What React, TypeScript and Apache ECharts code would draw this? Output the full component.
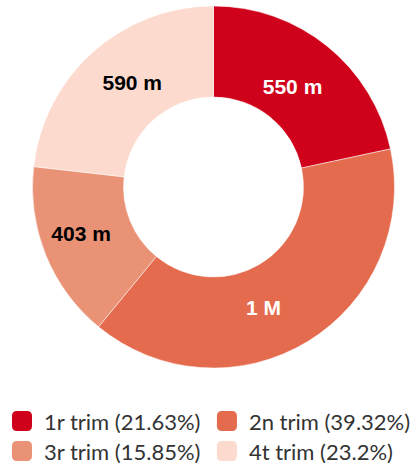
import React, { useEffect, useRef } from "react";
import * as echarts from "echarts";

const categories = ["1r trim", "2n trim", "3r trim", "4t trim"];
const values = [550, 1000, 403, 590];
const sliceColors = ["#D0021B", "#E56B4E", "#EA9275", "#FDDACE"];
const labelColors = ["#ffffff", "#ffffff", "#000000", "#000000"];
// small label nudges (layout only), per slice index
const labelNudges: [number, number][] = [
  [-8, 7],
  [-22, 2],
  [-4, -5],
  [11, -1],
];

const total = values.reduce((a, b) => a + b, 0);
const pct = (v: number) => Number(((v / total) * 100).toFixed(2));
const fmtValue = (v: number) => (v >= 1000 ? `${Number((v / 1000).toFixed(1))} M` : `${v} m`);

export default function App() {
  const ref = useRef<HTMLDivElement>(null);
  useEffect(() => {
    if (!ref.current) return;
    const chart = echarts.init(ref.current, undefined, { renderer: "svg" });
    const legendBase = {
      left: 10,
      padding: 0,
      orient: "horizontal" as const,
      itemWidth: 22,
      itemHeight: 22,
      itemGap: 14,
      icon: "roundRect",
      selectedMode: false,
      formatter: (name: string) => {
        const i = categories.indexOf(name);
        return `${name} (${pct(values[i])}%)`;
      },
      textStyle: {
        fontFamily: "Lato",
        fontSize: 22,
        color: "#333333",
        width: 170,
        padding: [0, 0, 0, 6],
      },
    };
    chart.setOption({
      animation: false,
      color: sliceColors,
      legend: [
        { ...legendBase, top: 409, data: [categories[0], categories[1]] },
        { ...legendBase, top: 439, data: [categories[2], categories[3]] },
      ],
      series: [
        {
          type: "pie",
          center: [213.5, 187],
          radius: [90, 181],
          startAngle: 90,
          clockwise: true,
          avoidLabelOverlap: false,
          itemStyle: { borderColor: "#ffffff", borderWidth: 0.5 },
          label: {
            show: true,
            position: "inside",
            fontFamily: "Liberation Sans, Arial, sans-serif",
            fontWeight: "bold",
            fontSize: 21,
            formatter: (p: any) => fmtValue(p.value),
          },
          labelLayout: (p: any) => ({
            dx: labelNudges[p.dataIndex][0],
            dy: labelNudges[p.dataIndex][1],
          }),
          labelLine: { show: false },
          emphasis: { disabled: true },
          data: categories.map((name, i) => ({
            name,
            value: values[i],
            label: { color: labelColors[i] },
          })),
        },
      ],
    });
    return () => chart.dispose();
  }, []);
  return (
    <div
      ref={ref}
      style={{ position: "fixed", left: 0, top: 0, width: 416, height: 463, background: "#fff" }}
    />
  );
}
